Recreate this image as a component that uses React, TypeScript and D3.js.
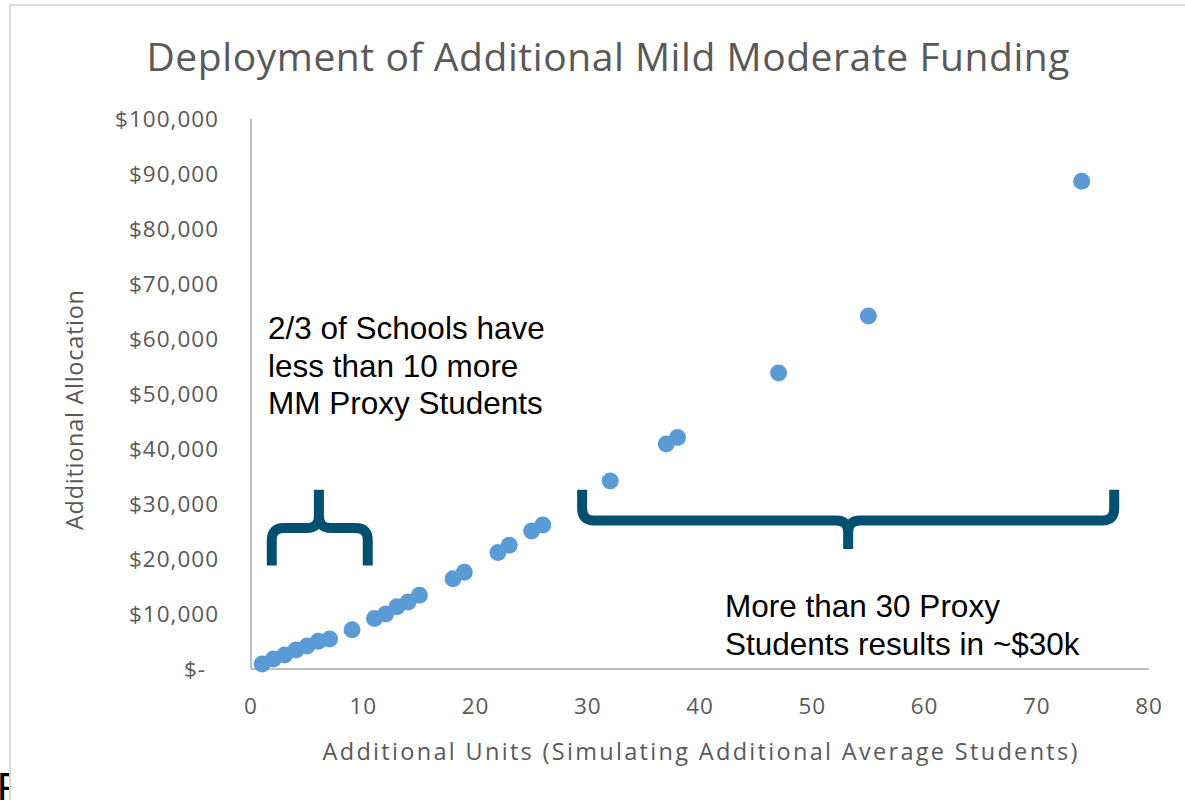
import React from "react";
import * as d3 from "d3";

// Additional units (simulated average students) per school
const units = [1, 2, 3, 4, 5, 6, 7, 9, 11, 12, 13, 14, 15, 18, 19, 22, 23, 25, 26, 32, 37, 38, 47, 55, 74];
// Additional mild/moderate allocation in dollars
const allocation = [
  900, 1800, 2550, 3450, 4200, 5050, 5450, 7150, 9200, 10000, 11300, 12200, 13400,
  16400, 17600, 21200, 22500, 25100, 26200, 34200, 40900, 42100, 53800, 64200, 88700,
];

const xTicks = [0, 10, 20, 30, 40, 50, 60, 70, 80];
const yTicks = [0, 10000, 20000, 30000, 40000, 50000, 60000, 70000, 80000, 90000, 100000];
const yTickLabels = ["$-", "$10,000", "$20,000", "$30,000", "$40,000", "$50,000", "$60,000", "$70,000", "$80,000", "$90,000", "$100,000"];

const title = "Deployment of Additional Mild Moderate Funding";
const xTitle = "Additional Units (Simulating Additional Average Students)";
const yTitle = "Additional Allocation";
const leftNote = ["2/3 of Schools have", "less than 10 more", "MM Proxy Students"];
const rightNote = ["More than 30 Proxy", "Students results in ~$30k"];

const W = 1185;
const H = 800;
const GRAY = "#595959";
const AXIS = "#bfbfbf";
const DOT = "#5b9bd5";
const BRACE = "#02506f";
const FONT = "'Open Sans', sans-serif";
const ARIAL = "'Liberation Sans', Arial, sans-serif";

export default function App() {
  const x = d3.scaleLinear().domain([0, 80]).range([251, 1149]);
  const y = d3.scaleLinear().domain([0, 100000]).range([669, 119]);

  // Over-brace spanning the low-unit schools
  const lb = { x0: x(1.85), x1: x(10.4), mid: x(6.05), yBar: y(25650), yTop: y(32600), yEnd: y(18800) };
  const r = 12;
  const leftBrace =
    `M${lb.x0},${lb.yEnd} L${lb.x0},${lb.yBar + r} Q${lb.x0},${lb.yBar} ${lb.x0 + r},${lb.yBar} ` +
    `L${lb.mid - r},${lb.yBar} Q${lb.mid},${lb.yBar} ${lb.mid},${lb.yBar - r} L${lb.mid},${lb.yTop} ` +
    `M${lb.mid},${lb.yBar - r} Q${lb.mid},${lb.yBar} ${lb.mid + r},${lb.yBar} ` +
    `L${lb.x1 - r},${lb.yBar} Q${lb.x1},${lb.yBar} ${lb.x1},${lb.yBar + r} L${lb.x1},${lb.yEnd}`;

  // Under-brace spanning the high-unit schools
  const rb = { x0: x(29.5), x1: x(76.9), mid: x(53.2), yBar: y(27000), yTop: y(32600), yEnd: y(21800) };
  const rightBrace =
    `M${rb.x0},${rb.yTop} L${rb.x0},${rb.yBar - r} Q${rb.x0},${rb.yBar} ${rb.x0 + r},${rb.yBar} ` +
    `L${rb.mid - r},${rb.yBar} Q${rb.mid},${rb.yBar} ${rb.mid},${rb.yBar + r} L${rb.mid},${rb.yEnd} ` +
    `M${rb.mid},${rb.yBar + r} Q${rb.mid},${rb.yBar} ${rb.mid + r},${rb.yBar} ` +
    `L${rb.x1 - r},${rb.yBar} Q${rb.x1},${rb.yBar} ${rb.x1},${rb.yBar - r} L${rb.x1},${rb.yTop}`;

  return (
    <svg
      width={W}
      height={H}
      style={{ position: "absolute", left: 0, top: 0, display: "block", background: "#fff" }}
    >
      <text x={-3} y={801} fontFamily={ARIAL} fontSize={40} fill="#000">F</text>
      <rect x={10} y={5} width={1300} height={900} fill="#fff" stroke="#d9d9d9" strokeWidth={2} />

      <text x={608} y={71} textAnchor="middle" fontFamily={FONT} fontSize={39} fill={GRAY}
        textLength={923} lengthAdjust="spacing">{title}</text>

      {/* axes */}
      <line x1={x(0)} x2={x(0)} y1={y(0)} y2={y(100000)} stroke={AXIS} strokeWidth={2} />
      <line x1={x(0)} x2={x(80)} y1={y(0)} y2={y(0)} stroke={AXIS} strokeWidth={2} />

      {yTicks.map((t, i) => (
        <text key={t} x={219} dx={t === 0 ? -13 : 0} y={y(t)} dy="0.35em" textAnchor="end"
          fontFamily={FONT} fontSize={22.5} letterSpacing={1} fill={GRAY}>{yTickLabels[i]}</text>
      ))}
      {xTicks.map((t) => (
        <text key={t} x={x(t)} y={714} textAnchor="middle" fontFamily={FONT} fontSize={22.5}
          letterSpacing={1} fill={GRAY}>{t}</text>
      ))}

      <text x={700} y={760} textAnchor="middle" fontFamily={FONT} fontSize={23.5} fill={GRAY}
        textLength={755} lengthAdjust="spacing">{xTitle}</text>
      <text transform="translate(83,410) rotate(-90)" textAnchor="middle" fontFamily={FONT}
        fontSize={23.5} fill={GRAY} textLength={240} lengthAdjust="spacing">{yTitle}</text>

      {/* points */}
      {units.map((u, i) => (
        <circle key={i} cx={x(u)} cy={y(allocation[i])} r={8.5} fill={DOT} />
      ))}

      {/* braces */}
      <path d={leftBrace} fill="none" stroke={BRACE} strokeWidth={10} />
      <path d={rightBrace} fill="none" stroke={BRACE} strokeWidth={10} />

      {leftNote.map((s, i) => (
        <text key={s} x={268} y={339 + i * 37.5} fontFamily={ARIAL} fontSize={31.5} fill="#000">{s}</text>
      ))}
      {rightNote.map((s, i) => (
        <text key={s} x={725} y={617 + i * 37.5} fontFamily={ARIAL} fontSize={31.5} fill="#000">{s}</text>
      ))}
    </svg>
  );
}
